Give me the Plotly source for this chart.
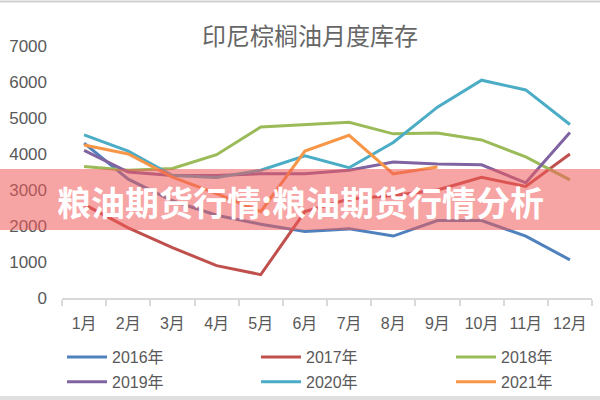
import plotly.graph_objects as go

months = ["1月", "2月", "3月", "4月", "5月", "6月", "7月", "8月", "9月", "10月", "11月", "12月"]
series_names = ["2016年", "2017年", "2018年", "2019年", "2020年", "2021年"]
v2016 = [4300, 3300, 2700, 2300, 2050, 1850, 1920, 1720, 2150, 2150, 1720, 1060]
v2017 = [2600, 1950, 1400, 900, 650, 2400, 2750, 2850, 3000, 3350, 3100, 4000]
v2018 = [3650, 3550, 3600, 3980, 4750, 4820, 4880, 4560, 4580, 4390, 3920, 3280]
v2019 = [4100, 3500, 3400, 3400, 3450, 3450, 3550, 3780, 3720, 3700, 3200, 4600]
v2020 = [4530, 4080, 3400, 3350, 3550, 3950, 3620, 4320, 5300, 6050, 5780, 4820]
v2021 = [4250, 4000, 3360, 2900, 2400, 4080, 4520, 3450, 3640]
colors = ["#4F81BD", "#C0504D", "#9BBB59", "#8064A2", "#4BACC6", "#F79646"]
y_ticks = [0, 1000, 2000, 3000, 4000, 5000, 6000, 7000]
title_text = "印尼棕榈油月度库存"
banner_text = "粮油期货行情:粮油期货行情分析"

all_values = [v2016, v2017, v2018, v2019, v2020, v2021]
legend_ids = ["legend", "legend2", "legend3", "legend", "legend2", "legend3"]

fig = go.Figure()
for i, (name, vals, col) in enumerate(zip(series_names, all_values, colors)):
    fig.add_trace(go.Scatter(
        x=months[:len(vals)], y=vals, name=name, mode="lines",
        line=dict(color=col, width=3), legend=legend_ids[i], legendgroup=name,
    ))

W, H = 600, 400
L, R, T, B = 62, 592, 46, 298

def px(x):
    return (x - L) / (R - L)

def py(y):
    return (B - y) / (B - T)

def make_legend(x_left):
    return dict(orientation="v", xref="container", yref="container",
                x=x_left / W, xanchor="left", y=1 - 340 / H, yanchor="top",
                tracegroupgap=1,
                font=dict(family="Liberation Sans, Noto Sans CJK SC", size=16, color="#595959"),
                bgcolor="rgba(0,0,0,0)", itemwidth=40)

fig.update_layout(
    width=W, height=H,
    margin=dict(l=L, r=W - R, t=T, b=H - B, pad=0, autoexpand=False),
    paper_bgcolor="white", plot_bgcolor="white",
    font=dict(family="Liberation Sans, Noto Sans CJK SC", color="#595959", size=16),
    title=dict(text=title_text, x=310 / W, xanchor="center", y=1 - 37 / H, yanchor="middle",
               xref="container", yref="container",
               font=dict(family="Noto Sans CJK SC", size=24, color="#666666")),
    showlegend=True,
    legend=make_legend(62),
    legend2=make_legend(256),
    legend3=make_legend(451),
    xaxis=dict(type="category", categoryorder="array", categoryarray=months,
               range=[-0.5, 11.5],
               showgrid=False, showline=True, linecolor="#D9D9D9", linewidth=1.5,
               ticks="outside", tickson="boundaries", ticklen=6, tickcolor="#D9D9D9",
               tickwidth=1.5, ticklabelstandoff=10,
               tickfont=dict(family="Liberation Sans, Noto Sans CJK SC", size=16, color="#595959"),
               fixedrange=True),
    yaxis=dict(range=[0, 7000], tickvals=y_ticks, showgrid=False, zeroline=False,
               showline=False, ticks="", ticklabelstandoff=14,
               tickfont=dict(family="Liberation Sans", size=17, color="#595959"),
               fixedrange=True),
    shapes=[
        dict(type="rect", xref="paper", yref="paper", layer="above",
             x0=px(0), x1=px(600), y0=py(230), y1=py(169),
             fillcolor="rgba(240,90,90,0.55)", line=dict(width=0)),
        dict(type="line", xref="paper", yref="paper", layer="above",
             x0=px(0), x1=px(600), y0=py(1.5), y1=py(1.5),
             line=dict(color="#D0D0D0", width=2)),
        dict(type="rect", xref="paper", yref="paper", layer="above",
             x0=px(0), x1=px(600), y0=py(400), y1=py(396),
             fillcolor="#E0E0E0", line=dict(width=0)),
    ],
    annotations=[
        dict(text="<b>" + banner_text + "</b>", xref="paper", yref="paper",
             x=px(300), y=py(201), xanchor="center", yanchor="middle", showarrow=False,
             font=dict(family="Noto Sans CJK SC", size=34, color="white")),
    ],
)

fig.write_html("out.html")
